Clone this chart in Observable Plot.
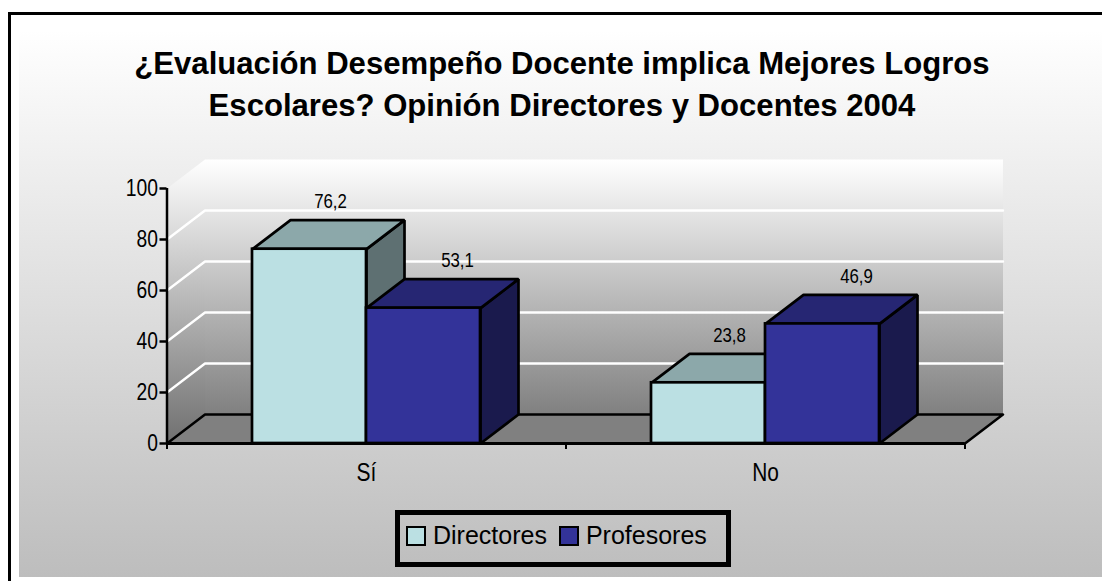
<!DOCTYPE html>
<html><head><meta charset="utf-8">
<script src="https://cdn.jsdelivr.net/npm/d3@7"></script>
<script src="https://cdn.jsdelivr.net/npm/@observablehq/plot@0.6"></script>
<style>
html,body{margin:0;padding:0;background:#fff;}
#page{position:relative;width:1102px;height:581px;overflow:hidden;background:#fff;}
#frame{position:absolute;left:8px;top:12px;right:0;bottom:0;border-left:3px solid #000;border-top:3px solid #000;}
#bg{position:absolute;left:19px;top:30px;right:0;bottom:4px;background:linear-gradient(#ffffff 0%,#bdbdbd 100%);}
#title{position:absolute;left:0;width:1124px;top:42.5px;text-align:center;font:bold 31.1px/42px "Liberation Sans",Arial,sans-serif;color:#000;}
#chart{position:absolute;left:0;top:140px;}
#legend{position:absolute;left:395px;top:510px;width:336px;height:57px;box-sizing:border-box;border:5px solid #000;display:flex;align-items:center;padding:0 0 6px 6px;font:25px "Liberation Sans",sans-serif;color:#000;}
.sw{display:inline-block;width:20px;height:20px;border:2.5px solid #000;box-sizing:border-box;margin-right:7px;}
.it{display:flex;align-items:center;margin-right:12px;}
</style></head><body>
<div id="page"><div id="bg"></div><div id="frame"></div>
<div id="title">¿Evaluación Desempeño Docente implica Mejores Logros<br>Escolares? Opinión Directores y Docentes 2004</div>
<div id="chart"></div>
<div id="legend"></div></div>
<script>
const categories = ["Sí","No"];
const seriesNames = ["Directores","Profesores"];
const directores = [76.2,23.8];
const profesores = [53.1,46.9];
const frontColors = ["#BBE0E3","#333399"];
const topColors = ["#8CA8AA","#262673"];
const sideColors = ["#5E7072","#1A1A4D"];
const yTicks = [0,20,40,60,80,100];

const barW = 114/399, DX = 38/399, DY = 29/2.55;
const values = [directores, profesores];
const bars = [];
seriesNames.forEach((s,si)=>categories.forEach((c,ci)=>{
  const x0 = ci+0.5+(si-1)*barW, x1 = x0+barW;
  bars.push({s,si,c,ci,v:values[si][ci],x0,x1});
}));
let pid=0;
const poly=(pts,fill)=>{const id=pid++;return [...pts,pts[0]].map(([x,y])=>({x,y,id,fill}));};
const bySeries = si=>bars.filter(b=>b.si===si);
const prism = si=>bySeries(si).flatMap(b=>[
  ...poly([[b.x1,0],[b.x1+DX,DY],[b.x1+DX,b.v+DY],[b.x1,b.v]],sideColors[si]),
  ...poly([[b.x0,b.v],[b.x1,b.v],[b.x1+DX,b.v+DY],[b.x0+DX,b.v+DY]],topColors[si])
]);
const wall=poly([[DX,DY],[2+DX,DY],[2+DX,100+DY],[DX,100+DY]],"url(#gBack)");
const side=poly([[0,0],[DX,DY],[DX,100+DY],[0,100]],"url(#gSide)");
const floor=poly([[0,0],[2,0],[2+DX,DY],[DX,DY]],"#808080");
const grid=yTicks.slice(1,5).flatMap(t=>[
  {x:0,y:t,id:t},{x:DX,y:t+DY,id:t},{x:2+DX,y:t+DY,id:t}]);
const fmt=v=>String(v).replace(".",",");
const polyMark=(d,o={})=>Plot.line(d,{x:"x",y:"y",z:"id",fill:"fill",stroke:"none",curve:"linear",...o});
const defs=()=>{
  const ns="http://www.w3.org/2000/svg";
  const g=document.createElementNS(ns,"g");
  g.innerHTML=`<defs>
  <linearGradient id="gBack" x1="0" y1="0" x2="0" y2="1"><stop offset="0" stop-color="#ffffff"/><stop offset="1" stop-color="#808080"/></linearGradient>
  <linearGradient id="gSide" x1="0" y1="0" x2="0" y2="1"><stop offset="0" stop-color="#ffffff"/><stop offset="1" stop-color="#707070"/></linearGradient>
  </defs>`;
  return g;
};
const seriesMarks=si=>[
  polyMark(prism(si),{stroke:"#000",strokeWidth:2.7,strokeLinejoin:"miter"}),
  Plot.rect(bySeries(si),{x1:"x0",x2:"x1",y1:()=>0,y2:"v",fill:frontColors[si],stroke:"#000",strokeWidth:2.7})
];
const labelDx=[21,34];
const chart=Plot.plot({
  width:1102,height:340,
  marginLeft:166.5,marginRight:137.5,marginTop:48,marginBottom:37,
  style:{background:"transparent",fontFamily:'"Liberation Sans",sans-serif',overflow:"visible"},
  x:{type:"linear",domain:[0,2],axis:null},
  y:{type:"linear",domain:[0,100],axis:null},
  marks:[
    defs,
    polyMark(wall),
    polyMark(side),
    polyMark(floor,{stroke:"#000",strokeWidth:2.5}),
    Plot.line(grid,{x:"x",y:"y",z:"id",stroke:"#fff",strokeWidth:2.4}),
    ...seriesMarks(0),
    ...seriesMarks(1),
    Plot.ruleX([0],{y1:0,y2:100,stroke:"#000",strokeWidth:2.5}),
    Plot.ruleY([0],{x1:0,x2:2,stroke:"#000",strokeWidth:3}),
    Plot.ruleX([0,1,2],{y1:0,y2:-2.4,stroke:"#000",strokeWidth:2}),
    Plot.axisY({ticks:yTicks,tickSize:7,tickPadding:2,fontSize:23.5,tickFormat:d=>d,stroke:"#000",strokeWidth:2.5,label:null,fill:"#000"}),
    Plot.text(categories,{x:(d,i)=>i+0.5,y:()=>0,text:d=>d,dy:29,fontSize:25.5,fill:"#000"}),
    ...[0,1].map(si=>Plot.text(bySeries(si),{x:d=>(d.x0+d.x1)/2,y:"v",text:d=>fmt(d.v),dx:labelDx[si],dy:-47.5,fontSize:20.5,fill:"#000"}))
  ]
});
document.getElementById("chart").append(chart);
d3.select(chart).selectAll("text").each(function(){
  const len=this.getComputedTextLength();
  this.setAttribute("textLength",(len*0.82).toFixed(1));
  this.setAttribute("lengthAdjust","spacingAndGlyphs");
});
const leg=document.getElementById("legend");
seriesNames.forEach((s,i)=>{
  const it=document.createElement("span");it.className="it";
  const sw=document.createElement("span");sw.className="sw";sw.style.background=frontColors[i];
  it.append(sw,s);leg.append(it);
});
</script></body></html>
